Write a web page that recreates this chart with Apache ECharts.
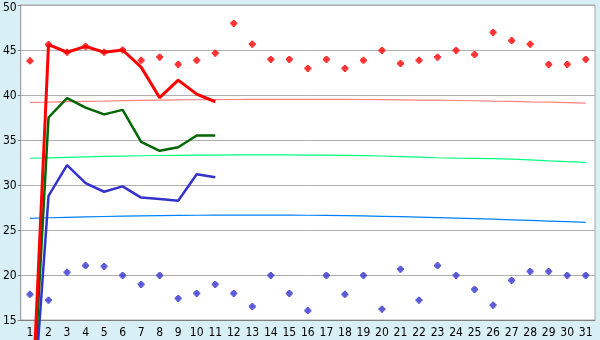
<!DOCTYPE html>
<html>
<head>
<meta charset="utf-8">
<script src="https://cdn.jsdelivr.net/npm/echarts@6/dist/echarts.min.js"></script>
<style>html,body{margin:0;padding:0;background:#d9eff6;}#c{width:600px;height:340px;}</style>
</head>
<body>
<div id="c"></div>
<script>
const categories = ['1','2','3','4','5','6','7','8','9','10','11','12','13','14','15','16','17','18','19','20','21','22','23','24','25','26','27','28','29','30','31'];
const yTicks = [15, 50, 5];
const redLine = [0, 45.6, 44.75, 45.4, 44.75, 45.0, 43.1, 39.7, 41.65, 40.1, 39.25];
const greenLine = [0, 37.5, 39.65, 38.6, 37.85, 38.35, 34.8, 33.8, 34.2, 35.5, 35.5];
const blueLine = [0, 28.8, 32.2, 30.2, 29.25, 29.85, 28.6, 28.45, 28.25, 31.2, 30.85];
const redPoints = [43.8, 45.6, 44.75, 45.4, 44.75, 45.0, 43.85, 44.2, 43.4, 43.85, 44.65, 47.95, 45.65, 43.95, 43.95, 42.95, 43.95, 42.95, 43.85, 44.95, 43.5, 43.85, 44.2, 44.95, 44.5, 46.95, 46.05, 45.65, 43.4, 43.4, 43.95];
const bluePoints = [17.85, 17.2, 20.3, 21.05, 20.95, 19.95, 18.95, 19.95, 17.4, 17.95, 18.95, 17.95, 16.5, 19.95, 17.95, 16.05, 19.95, 17.85, 19.95, 16.2, 20.65, 17.2, 21.05, 19.95, 18.4, 16.65, 19.4, 20.4, 20.4, 19.95, 19.95];
const redTrend = [39.17, 39.21, 39.26, 39.30, 39.33, 39.37, 39.40, 39.43, 39.45, 39.47, 39.49, 39.50, 39.51, 39.52, 39.52, 39.52, 39.52, 39.51, 39.50, 39.48, 39.46, 39.44, 39.42, 39.39, 39.36, 39.32, 39.29, 39.24, 39.20, 39.15, 39.10];
const greenTrend = [32.97, 33.02, 33.07, 33.12, 33.17, 33.21, 33.25, 33.28, 33.30, 33.32, 33.33, 33.34, 33.34, 33.34, 33.34, 33.33, 33.32, 33.30, 33.27, 33.22, 33.15, 33.09, 33.03, 32.99, 32.96, 32.92, 32.88, 32.79, 32.69, 32.60, 32.52];
const blueTrend = [26.30, 26.36, 26.41, 26.46, 26.50, 26.54, 26.57, 26.60, 26.62, 26.64, 26.65, 26.66, 26.66, 26.66, 26.65, 26.64, 26.62, 26.59, 26.56, 26.52, 26.48, 26.43, 26.38, 26.32, 26.26, 26.20, 26.13, 26.06, 25.99, 25.92, 25.85];

const chart = echarts.init(document.getElementById('c'), null, {renderer: 'canvas'});
const font = '"DejaVu Sans Condensed", "DejaVu Sans", sans-serif';
const markerPath = 'path://M2,0H4V1H5V2H6V4H5V5H4V6H2V5H1V4H0V2H1V1H2Z';
function trend(data, color) {
  return {type: 'line', data: data, symbol: 'none', silent: true,
    lineStyle: {color: color, width: 1.2}, z: 2};
}
function mainLine(data, color, w) {
  return {type: 'line', data: data, symbol: 'none', clip: false, silent: true,
    lineStyle: {color: color, width: w}, z: 4};
}
function pts(data, color) {
  return {type: 'scatter', data: data, symbol: markerPath, symbolSize: 7, silent: true,
    itemStyle: {color: color}, z: 5};
}
chart.setOption({
  animation: false,
  backgroundColor: '#d9eff6',
  grid: {left: 20, top: 5, right: 5, bottom: 20, show: true, backgroundColor: '#ffffff', borderColor: '#a8a8a8', borderWidth: 1},
  xAxis: {
    type: 'category', data: categories, boundaryGap: true,
    axisLine: {lineStyle: {color: '#808080', width: 1}},
    axisTick: {alignWithLabel: true, length: 5, lineStyle: {color: '#404040'}},
    axisLabel: {interval: 0, color: '#000', fontFamily: font, fontSize: 12, margin: 7},
    splitLine: {show: false}
  },
  yAxis: {
    type: 'value', min: yTicks[0], max: yTicks[1], interval: yTicks[2],
    axisLine: {show: true, lineStyle: {color: '#a0a0a0', width: 1}},
    axisTick: {show: true, length: 3, lineStyle: {color: '#808080'}},
    axisLabel: {color: '#000', fontFamily: font, fontSize: 12, margin: 4,
      formatter: function (v) { return v === yTicks[1] ? '{t|' + v + '}' : '{n|' + v + '}'; },
      rich: {t: {fontFamily: font, fontSize: 12, color: '#000', padding: [5, 0, 0, 0]},
             n: {fontFamily: font, fontSize: 12, color: '#000', padding: [1, 0, 0, 0]}}},
    splitLine: {lineStyle: {color: '#b0b0b0', width: 1}}
  },
  series: [
    trend(redTrend, '#ff8080'),
    trend(greenTrend, '#00ff80'),
    trend(blueTrend, '#0080ff'),
    mainLine(blueLine, '#3333cc', 2.5),
    mainLine(greenLine, '#006600', 2.5),
    mainLine(redLine, '#ff0000', 3),
    pts(redPoints, '#ff0000'),
    pts(bluePoints, '#3333cc')
  ]
});
</script>
</body>
</html>
